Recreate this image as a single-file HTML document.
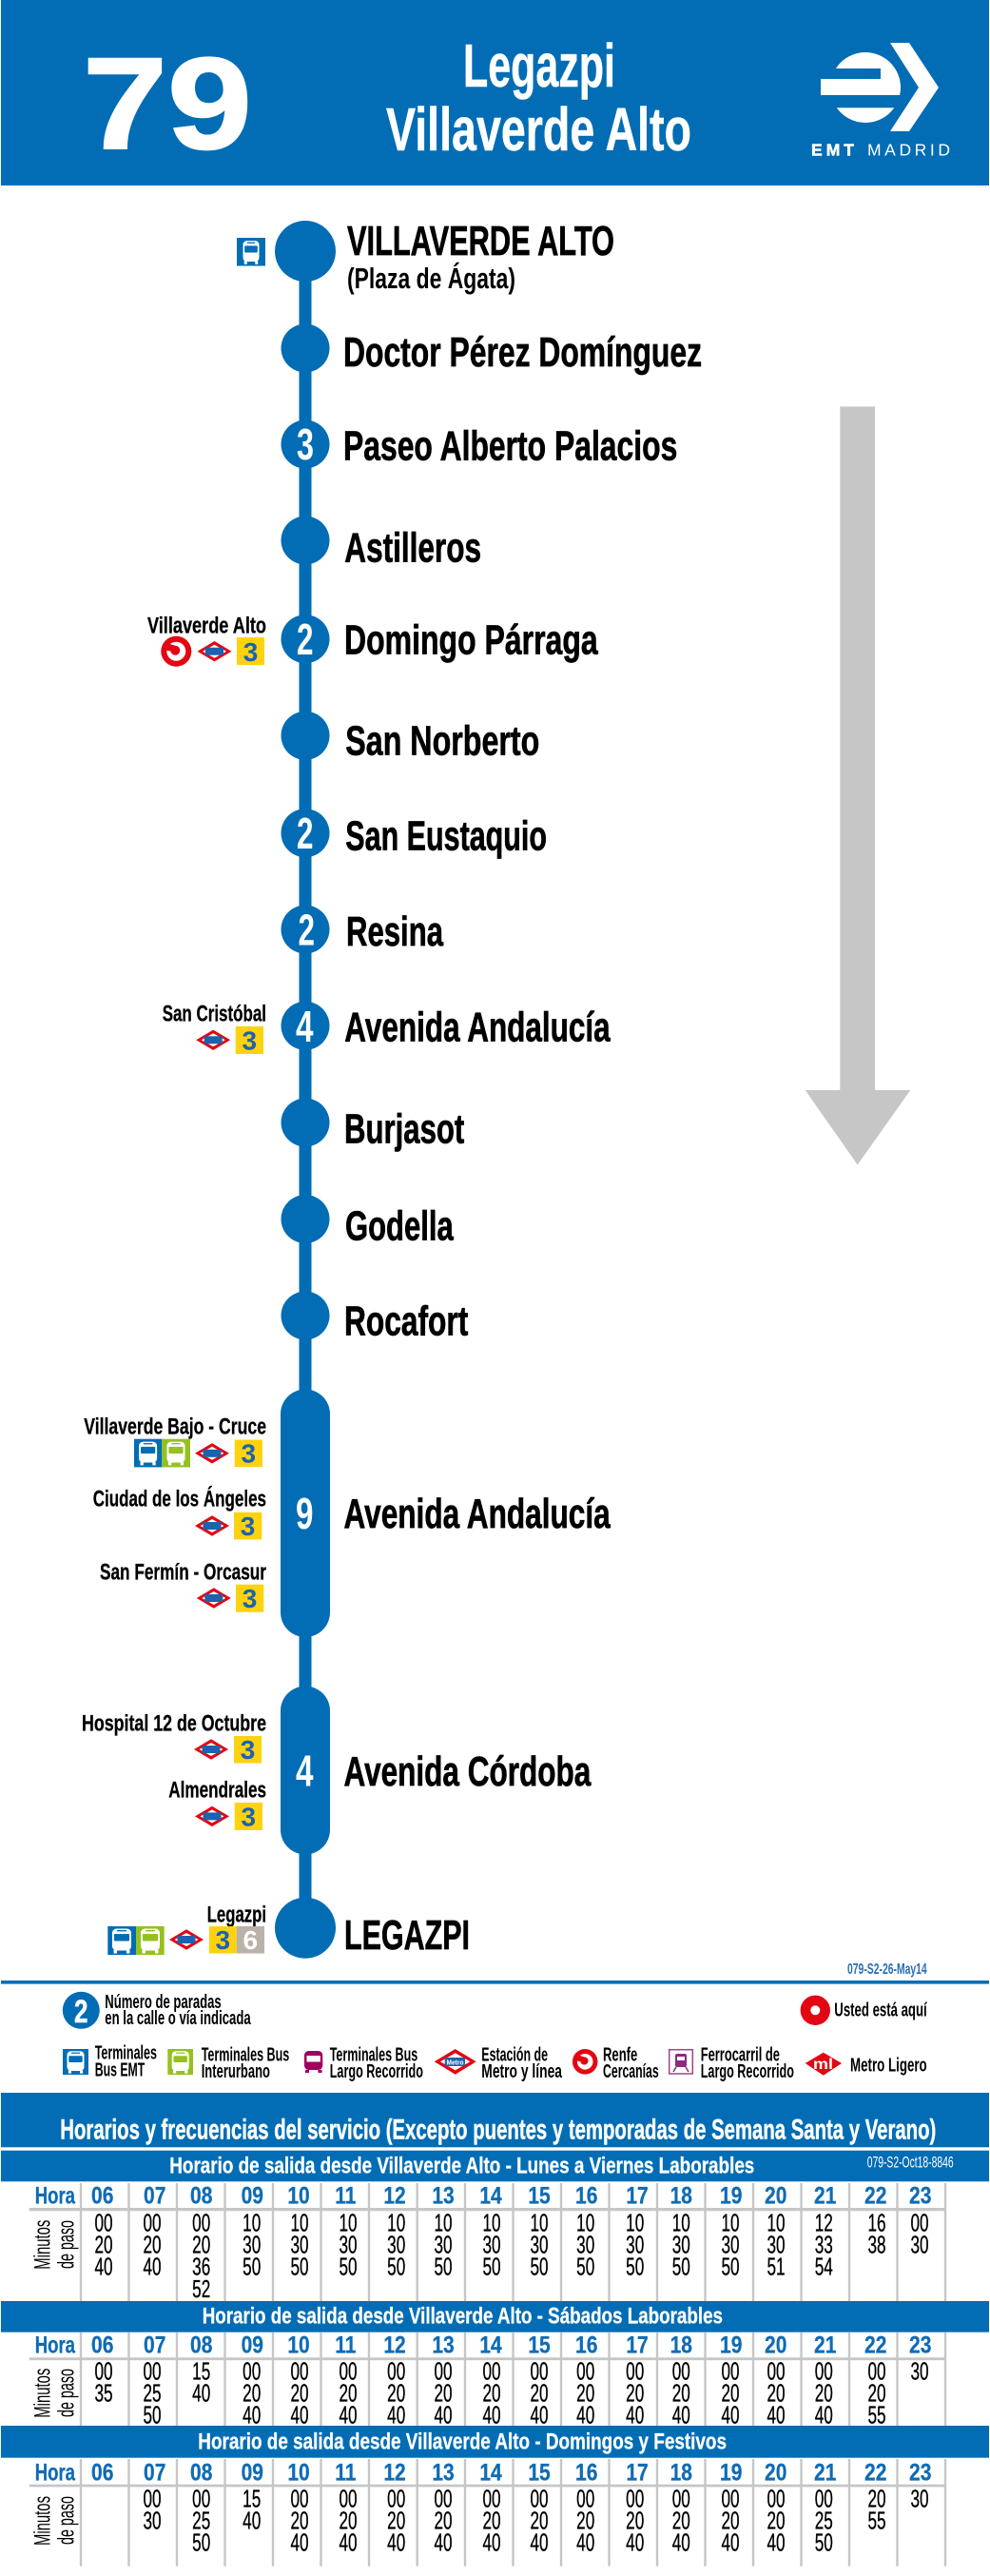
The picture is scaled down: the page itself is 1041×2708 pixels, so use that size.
<!DOCTYPE html>
<html lang="es"><head><meta charset="utf-8"><title>Línea 79 Legazpi - Villaverde Alto</title>
<style>
html,body{margin:0;padding:0;background:#fff}
svg{display:block}
text{font-family:"Liberation Sans",sans-serif;font-weight:700;fill:#000}
.w{fill:#fff;stroke:#fff;stroke-width:.5px}
.s{font-size:44px;stroke:#000;stroke-width:.7px}
.l{font-size:24px;stroke:#000;stroke-width:.3px}
.n{font-size:46px;fill:#fff}
.y{font-size:28px;fill:#1b62b0;text-anchor:middle}
.g{font-size:20px}
.b{font-size:24.5px;fill:#fff;stroke:#fff;stroke-width:.3px}
.h{font-size:24.7px;fill:#0f6cb5;stroke:#0f6cb5;stroke-width:.3px}
.m{font-size:26px;font-weight:400;text-anchor:middle;stroke:#000;stroke-width:.35px}
.r{font-size:24px;font-weight:400}
</style></head><body>
<svg xmlns="http://www.w3.org/2000/svg" width="1041" height="2708" viewBox="0 0 1041 2708">
<defs>
<g id="metro"><polygon points="-18,0 0,-10.7 18,0 0,10.7" fill="#e30613"/><polygon points="-12.5,0 0,-7 12.5,0 0,7" fill="#fff"/><rect x="-9.5" y="-4" width="19" height="8" fill="#1b62b0"/></g>
<g id="renfe"><circle r="16" fill="#e30613"/><circle r="10" fill="#fff"/><circle cx="-1" cy="-1" r="5" fill="#e30613"/><path d="M-11,-9 L-1,-6 L-4,0 L-11,-1Z" fill="#e30613"/></g>
<g id="bus"><rect x="-10" y="-12.5" width="20" height="23" rx="4.5" fill="#fff"/><rect x="-8" y="-7" width="16" height="7.5" rx="1" fill="currentColor"/><rect x="-5" y="-11" width="10" height="1.4" fill="currentColor"/><rect x="-8.5" y="10" width="3.5" height="3.5" fill="#fff"/><rect x="5" y="10" width="3.5" height="3.5" fill="#fff"/></g>
</defs>
<rect width="1041" height="2708" fill="#fff"/>

<g>
<rect x="1" y="0" width="1039" height="195" fill="#026db5"/>
<text class="w" x="87" y="156" font-size="137" textLength="178" lengthAdjust="spacingAndGlyphs" style="stroke-width:2px">79</text>
<text class="w" x="487" y="91" font-size="64" textLength="160" lengthAdjust="spacingAndGlyphs">Legazpi</text>
<text class="w" x="406" y="158" font-size="64" textLength="321" lengthAdjust="spacingAndGlyphs">Villaverde Alto</text>
<g>
<circle cx="910" cy="92" r="37" fill="#fff"/><rect x="863" y="83" width="30" height="17" fill="#fff"/><rect x="860" y="72" width="66" height="11" fill="#026db5"/><rect x="860" y="100" width="92" height="13.3" fill="#026db5"/>
<polygon points="936,45 956,45 987,92 956,138 936,138 966,92" fill="#fff"/>
<text class="w" x="853" y="163.3" font-size="17.5" textLength="45">EMT</text>
<text x="912" y="163.3" font-size="17.5" style="font-weight:400;fill:#fff" textLength="87">MADRID</text>
</g></g>

<g fill="#026db5">
<rect x="314.5" y="264" width="13" height="1762"/>
<circle cx="321" cy="264" r="32"/>
<circle cx="321" cy="366" r="25.5"/>
<circle cx="321" cy="467" r="25.5"/>
<circle cx="321" cy="568" r="25.5"/>
<circle cx="321" cy="671.7" r="25.5"/>
<circle cx="321" cy="773.3" r="25.5"/>
<circle cx="321" cy="875.7" r="25.5"/>
<circle cx="321" cy="977" r="25.5"/>
<circle cx="321" cy="1078.3" r="25.5"/>
<circle cx="321" cy="1180" r="25.5"/>
<circle cx="321" cy="1281.5" r="25.5"/>
<circle cx="321" cy="1383" r="25.5"/>
<rect x="295" y="1460.5" width="52" height="260.5" rx="26"/>
<rect x="295" y="1772.5" width="52" height="177" rx="26"/>
<circle cx="321" cy="2026.7" r="32"/>
</g>
<g>
<text class="n" x="312" y="483" textLength="18" lengthAdjust="spacingAndGlyphs">3</text>
<text class="n" x="312" y="688" textLength="17.5" lengthAdjust="spacingAndGlyphs">2</text>
<text class="n" x="312" y="892" textLength="17.5" lengthAdjust="spacingAndGlyphs">2</text>
<text class="n" x="313.5" y="993.5" textLength="17.5" lengthAdjust="spacingAndGlyphs">2</text>
<text class="n" x="311" y="1095" textLength="18.5" lengthAdjust="spacingAndGlyphs">4</text>
<text class="n" x="311" y="1607" textLength="18.5" lengthAdjust="spacingAndGlyphs">9</text>
<text class="n" x="311" y="1877.5" textLength="18.5" lengthAdjust="spacingAndGlyphs">4</text>
</g>

<g>
<text class="s" x="365" y="268" textLength="281" lengthAdjust="spacingAndGlyphs">VILLAVERDE ALTO</text>
<text x="365" y="303" font-size="31" textLength="177" lengthAdjust="spacingAndGlyphs">(Plaza de Ágata)</text>
<text class="s" x="361" y="385" textLength="377" lengthAdjust="spacingAndGlyphs">Doctor Pérez Domínguez</text>
<text class="s" x="361" y="483.3" textLength="351.3" lengthAdjust="spacingAndGlyphs">Paseo Alberto Palacios</text>
<text class="s" x="362.3" y="590.7" textLength="143.7" lengthAdjust="spacingAndGlyphs">Astilleros</text>
<text class="s" x="362" y="687.3" textLength="266.7" lengthAdjust="spacingAndGlyphs">Domingo Párraga</text>
<text class="s" x="363.3" y="793.3" textLength="204" lengthAdjust="spacingAndGlyphs">San Norberto</text>
<text class="s" x="363.3" y="893.3" textLength="211.7" lengthAdjust="spacingAndGlyphs">San Eustaquio</text>
<text class="s" x="364" y="994" textLength="102" lengthAdjust="spacingAndGlyphs">Resina</text>
<text class="s" x="362.3" y="1094.3" textLength="279.4" lengthAdjust="spacingAndGlyphs">Avenida Andalucía</text>
<text class="s" x="362" y="1201.7" textLength="126.3" lengthAdjust="spacingAndGlyphs">Burjasot</text>
<text class="s" x="363" y="1303.3" textLength="113.7" lengthAdjust="spacingAndGlyphs">Godella</text>
<text class="s" x="362" y="1403.3" textLength="130.3" lengthAdjust="spacingAndGlyphs">Rocafort</text>
<text class="s" x="361.5" y="1606" textLength="280.2" lengthAdjust="spacingAndGlyphs">Avenida Andalucía</text>
<text class="s" x="361.5" y="1877" textLength="259.8" lengthAdjust="spacingAndGlyphs">Avenida Córdoba</text>
<text class="s" x="362" y="2049" textLength="132" lengthAdjust="spacingAndGlyphs">LEGAZPI</text>
</g>

<g color="#026db5"><rect x="249" y="250" width="30" height="29.5" fill="#026db5"/><use href="#bus" transform="translate(264,265) scale(.85,.95)"/></g>

<g>
<text class="l" x="155" y="665.3" textLength="125" lengthAdjust="spacingAndGlyphs">Villaverde Alto</text>
<use href="#renfe" x="185.3" y="684.7"/>
<use href="#metro" x="225.5" y="684.7"/>
<rect x="249" y="670" width="29" height="29" fill="#ffd20f"/><text class="y" x="263.5" y="695">3</text>

<text class="l" x="170.7" y="1073.3" textLength="109.3" lengthAdjust="spacingAndGlyphs">San Cristóbal</text>
<use href="#metro" x="224.2" y="1093.3"/>
<rect x="247.7" y="1079" width="29.3" height="29" fill="#ffd20f"/><text class="y" x="262.3" y="1103.5">3</text>

<text class="l" x="88.3" y="1507.3" textLength="191.7" lengthAdjust="spacingAndGlyphs">Villaverde Bajo - Cruce</text>
<rect x="141" y="1512.7" width="29.3" height="29.7" fill="#026db5"/><use href="#bus" color="#026db5" transform="translate(155.6,1527.5) scale(.95)"/>
<rect x="170.3" y="1512.7" width="29.7" height="29.7" fill="#95c11f"/><use href="#bus" color="#95c11f" transform="translate(185,1527.5) scale(.95)"/>
<use href="#metro" x="223" y="1527.8"/>
<rect x="246.7" y="1513.5" width="29.3" height="28.5" fill="#ffd20f"/><text class="y" x="261.3" y="1537.5">3</text>

<text class="l" x="97.7" y="1583.7" textLength="182.3" lengthAdjust="spacingAndGlyphs">Ciudad de los Ángeles</text>
<use href="#metro" x="223" y="1604"/>
<rect x="246" y="1589.8" width="29.3" height="28.6" fill="#ffd20f"/><text class="y" x="260.6" y="1614">3</text>

<text class="l" x="105" y="1660.4" textLength="175" lengthAdjust="spacingAndGlyphs">San Fermín - Orcasur</text>
<use href="#metro" x="224.8" y="1680"/>
<rect x="248" y="1665.7" width="29.3" height="29" fill="#ffd20f"/><text class="y" x="262.6" y="1690">3</text>

<text class="l" x="86" y="1819.6" textLength="194" lengthAdjust="spacingAndGlyphs">Hospital 12 de Octubre</text>
<use href="#metro" x="222" y="1839"/>
<rect x="246" y="1825" width="29" height="28.5" fill="#ffd20f"/><text class="y" x="260.5" y="1849">3</text>

<text class="l" x="177.3" y="1889.4" textLength="102.7" lengthAdjust="spacingAndGlyphs">Almendrales</text>
<use href="#metro" x="223" y="1909.4"/>
<rect x="246.7" y="1895" width="29.3" height="29" fill="#ffd20f"/><text class="y" x="261.3" y="1919.5">3</text>

<text class="l" x="217.7" y="2020.4" textLength="62.3" lengthAdjust="spacingAndGlyphs">Legazpi</text>
<rect x="113.3" y="2025" width="29.7" height="30" fill="#026db5"/><use href="#bus" color="#026db5" transform="translate(128,2040)"/>
<rect x="143" y="2025" width="29.7" height="30" fill="#95c11f"/><use href="#bus" color="#95c11f" transform="translate(158,2040)"/>
<use href="#metro" x="196" y="2039"/>
<rect x="220" y="2025" width="28.7" height="28.5" fill="#ffd20f"/><text class="y" x="234.3" y="2049">3</text>
<rect x="248.7" y="2025" width="29.3" height="28.5" fill="#b9b2a9"/><text class="y" x="263.3" y="2049" style="fill:#fff">6</text>
</g>

<polygon points="883.3,427.4 920,427.4 920,1146 957.3,1146 901.7,1224.5 846.7,1146 883.3,1146" fill="#c6c6c6"/>

<g>
<text x="891" y="2075" font-size="16" style="fill:#2a6db5" textLength="83.7" lengthAdjust="spacingAndGlyphs">079-S2-26-May14</text>
<rect x="1" y="2082" width="1039" height="3.6" fill="#026db5"/>
<circle cx="85.3" cy="2113.3" r="19.5" fill="#026db5"/>
<text class="w" x="78" y="2126" font-size="34" textLength="14.5" lengthAdjust="spacingAndGlyphs">2</text>
<text class="g" x="110.3" y="2111" textLength="122.4" lengthAdjust="spacingAndGlyphs">Número de paradas</text>
<text class="g" x="110.3" y="2128" textLength="153.4" lengthAdjust="spacingAndGlyphs">en la calle o vía indicada</text>
<circle cx="857.3" cy="2113.3" r="15.7" fill="#e30613"/><circle cx="857.3" cy="2113.3" r="5" fill="#fff"/>
<text class="g" x="877.3" y="2119.7" textLength="97.4" lengthAdjust="spacingAndGlyphs">Usted está aquí</text>

<rect x="66" y="2154" width="27" height="27" fill="#026db5"/><use href="#bus" color="#026db5" transform="translate(79.5,2167.5) scale(.9)"/>
<text class="g" x="99.7" y="2164.7" textLength="65.3" lengthAdjust="spacingAndGlyphs">Terminales</text>
<text class="g" x="99.7" y="2182.7" textLength="52.6" lengthAdjust="spacingAndGlyphs">Bus EMT</text>
<rect x="176.3" y="2154" width="26.7" height="27" fill="#95c11f"/><use href="#bus" color="#95c11f" transform="translate(189.7,2167.5) scale(.9)"/>
<text class="g" x="211.7" y="2166.7" textLength="92.6" lengthAdjust="spacingAndGlyphs">Terminales Bus</text>
<text class="g" x="211.7" y="2184" textLength="72.3" lengthAdjust="spacingAndGlyphs">Interurbano</text>
<g><rect x="320" y="2156" width="19.3" height="20" rx="4.5" fill="#a2005f"/><rect x="322.5" y="2161" width="14.3" height="6.5" fill="#fff"/><rect x="321" y="2176" width="4" height="3" fill="#a2005f"/><rect x="334.5" y="2176" width="4" height="3" fill="#a2005f"/></g>
<text class="g" x="346.7" y="2166.7" textLength="92.6" lengthAdjust="spacingAndGlyphs">Terminales Bus</text>
<text class="g" x="346.7" y="2184" textLength="98.3" lengthAdjust="spacingAndGlyphs">Largo Recorrido</text>
<g><polygon points="456.7,2167.3 478.7,2154 500.7,2167.3 478.7,2180.7" fill="#e30613"/><polygon points="463,2167.3 478.7,2158.3 494.4,2167.3 478.7,2176.4" fill="#fff"/><rect x="467.7" y="2163" width="21.3" height="9" fill="#1b62b0"/><text x="469.5" y="2170.5" font-size="7.5" style="fill:#fff" textLength="18" lengthAdjust="spacingAndGlyphs">Metro</text></g>
<text class="g" x="506.3" y="2166.7" textLength="69.7" lengthAdjust="spacingAndGlyphs">Estación de</text>
<text class="g" x="506.3" y="2184" textLength="84.7" lengthAdjust="spacingAndGlyphs">Metro y línea</text>
<use href="#renfe" transform="translate(615.2,2167.3) scale(.83)"/>
<text class="g" x="634" y="2166.7" textLength="36.3" lengthAdjust="spacingAndGlyphs">Renfe</text>
<text class="g" x="634" y="2184" textLength="58.7" lengthAdjust="spacingAndGlyphs">Cercanías</text>
<g><rect x="703.7" y="2154.7" width="24.6" height="25.3" fill="#fff" stroke="#a3448b" stroke-width="1.5"/><rect x="710" y="2159" width="12" height="14" rx="2" fill="#8c2a7e"/><rect x="712" y="2162" width="8" height="4" fill="#fff"/><path d="M711,2173l-3,5M721,2173l3,5" stroke="#8c2a7e" stroke-width="1.5"/></g>
<text class="g" x="736.7" y="2166.7" textLength="83.3" lengthAdjust="spacingAndGlyphs">Ferrocarril de</text>
<text class="g" x="736.7" y="2184" textLength="98.3" lengthAdjust="spacingAndGlyphs">Largo Recorrido</text>
<g><polygon points="846.7,2169 865.8,2157.7 885,2169 865.8,2181.7" fill="#e30613"/><text x="855" y="2175" font-size="16" style="fill:#fff" textLength="21" lengthAdjust="spacingAndGlyphs">ml</text></g>
<text class="g" x="894" y="2177.7" textLength="80.7" lengthAdjust="spacingAndGlyphs">Metro Ligero</text>
</g>

<g>
<rect x="1" y="2200" width="1039" height="57.3" fill="#026db5"/>
<text class="w" x="63.3" y="2248.3" font-size="30" textLength="921" lengthAdjust="spacingAndGlyphs">Horarios y frecuencias del servicio (Excepto puentes y temporadas de Semana Santa y Verano)</text>

<g stroke="#c6c6c6" stroke-width="2.4">
<path fill="none" d="M85,2295V2419M135.5,2295V2419M186,2295V2419M236.5,2295V2419M287,2295V2419M337.5,2295V2419M388,2295V2419M438.7,2295V2419M489,2295V2419M539.5,2295V2419M590,2295V2419M640.5,2295V2419M691,2295V2419M741.5,2295V2419M792,2295V2419M842.5,2295V2419M893,2295V2419M943.5,2295V2419M994,2295V2419"/>
<path fill="none" d="M85,2452V2550M135.5,2452V2550M186,2452V2550M236.5,2452V2550M287,2452V2550M337.5,2452V2550M388,2452V2550M438.7,2452V2550M489,2452V2550M539.5,2452V2550M590,2452V2550M640.5,2452V2550M691,2452V2550M741.5,2452V2550M792,2452V2550M842.5,2452V2550M893,2452V2550M943.5,2452V2550M994,2452V2550"/>
<path fill="none" d="M85,2585V2697.7M135.5,2585V2697.7M186,2585V2697.7M236.5,2585V2697.7M287,2585V2697.7M337.5,2585V2697.7M388,2585V2697.7M438.7,2585V2697.7M489,2585V2697.7M539.5,2585V2697.7M590,2585V2697.7M640.5,2585V2697.7M691,2585V2697.7M741.5,2585V2697.7M792,2585V2697.7M842.5,2585V2697.7M893,2585V2697.7M943.5,2585V2697.7M994,2585V2697.7"/>
</g>
<rect x="30.7" y="2321" width="964" height="3.3" fill="#c6c6c6"/>
<rect x="30.7" y="2478.3" width="964" height="2.9" fill="#c6c6c6"/>
<rect x="30.7" y="2611.7" width="964" height="2.7" fill="#c6c6c6"/>

<rect x="1" y="2260.7" width="1039" height="32.6" fill="#026db5"/>
<text class="b" x="178.3" y="2284.3" textLength="615" lengthAdjust="spacingAndGlyphs">Horario de salida desde Villaverde Alto - Lunes a Viernes Laborables</text>
<text x="911.7" y="2278.3" font-size="16.5" style="fill:#fff;font-weight:400" textLength="91" lengthAdjust="spacingAndGlyphs">079-S2-Oct18-8846</text>
<rect x="1" y="2419" width="1039" height="32.7" fill="#026db5"/>
<text class="b" x="212.7" y="2442.7" textLength="547.3" lengthAdjust="spacingAndGlyphs">Horario de salida desde Villaverde Alto - Sábados Laborables</text>
<rect x="1" y="2550" width="1039" height="33.7" fill="#026db5"/>
<text class="b" x="208.3" y="2574.3" textLength="555.7" lengthAdjust="spacingAndGlyphs">Horario de salida desde Villaverde Alto - Domingos y Festivos</text>

<g text-anchor="middle">
<g transform="translate(0,2316.7)"><text class="h" x="36.7" text-anchor="start" textLength="42.3" lengthAdjust="spacingAndGlyphs">Hora</text><text class="h" transform="translate(107.7,0) scale(.85,1)">06</text><text class="h" transform="translate(162.7,0) scale(.85,1)">07</text><text class="h" transform="translate(211.7,0) scale(.85,1)">08</text><text class="h" transform="translate(265.3,0) scale(.85,1)">09</text><text class="h" transform="translate(314,0) scale(.85,1)">10</text><text class="h" transform="translate(363.3,0) scale(.85,1)">11</text><text class="h" transform="translate(415,0) scale(.85,1)">12</text><text class="h" transform="translate(466,0) scale(.85,1)">13</text><text class="h" transform="translate(516,0) scale(.85,1)">14</text><text class="h" transform="translate(567,0) scale(.85,1)">15</text><text class="h" transform="translate(616.7,0) scale(.85,1)">16</text><text class="h" transform="translate(670,0) scale(.85,1)">17</text><text class="h" transform="translate(716.3,0) scale(.85,1)">18</text><text class="h" transform="translate(768.7,0) scale(.85,1)">19</text><text class="h" transform="translate(815.7,0) scale(.85,1)">20</text><text class="h" transform="translate(867.7,0) scale(.85,1)">21</text><text class="h" transform="translate(920.7,0) scale(.85,1)">22</text><text class="h" transform="translate(967.7,0) scale(.85,1)">23</text></g>
<g transform="translate(0,2473.3)"><text class="h" x="36.7" text-anchor="start" textLength="42.3" lengthAdjust="spacingAndGlyphs">Hora</text><text class="h" transform="translate(107.7,0) scale(.85,1)">06</text><text class="h" transform="translate(162.7,0) scale(.85,1)">07</text><text class="h" transform="translate(211.7,0) scale(.85,1)">08</text><text class="h" transform="translate(265.3,0) scale(.85,1)">09</text><text class="h" transform="translate(314,0) scale(.85,1)">10</text><text class="h" transform="translate(363.3,0) scale(.85,1)">11</text><text class="h" transform="translate(415,0) scale(.85,1)">12</text><text class="h" transform="translate(466,0) scale(.85,1)">13</text><text class="h" transform="translate(516,0) scale(.85,1)">14</text><text class="h" transform="translate(567,0) scale(.85,1)">15</text><text class="h" transform="translate(616.7,0) scale(.85,1)">16</text><text class="h" transform="translate(670,0) scale(.85,1)">17</text><text class="h" transform="translate(716.3,0) scale(.85,1)">18</text><text class="h" transform="translate(768.7,0) scale(.85,1)">19</text><text class="h" transform="translate(815.7,0) scale(.85,1)">20</text><text class="h" transform="translate(867.7,0) scale(.85,1)">21</text><text class="h" transform="translate(920.7,0) scale(.85,1)">22</text><text class="h" transform="translate(967.7,0) scale(.85,1)">23</text></g>
<g transform="translate(0,2607.3)"><text class="h" x="36.7" text-anchor="start" textLength="42.3" lengthAdjust="spacingAndGlyphs">Hora</text><text class="h" transform="translate(107.7,0) scale(.85,1)">06</text><text class="h" transform="translate(162.7,0) scale(.85,1)">07</text><text class="h" transform="translate(211.7,0) scale(.85,1)">08</text><text class="h" transform="translate(265.3,0) scale(.85,1)">09</text><text class="h" transform="translate(314,0) scale(.85,1)">10</text><text class="h" transform="translate(363.3,0) scale(.85,1)">11</text><text class="h" transform="translate(415,0) scale(.85,1)">12</text><text class="h" transform="translate(466,0) scale(.85,1)">13</text><text class="h" transform="translate(516,0) scale(.85,1)">14</text><text class="h" transform="translate(567,0) scale(.85,1)">15</text><text class="h" transform="translate(616.7,0) scale(.85,1)">16</text><text class="h" transform="translate(670,0) scale(.85,1)">17</text><text class="h" transform="translate(716.3,0) scale(.85,1)">18</text><text class="h" transform="translate(768.7,0) scale(.85,1)">19</text><text class="h" transform="translate(815.7,0) scale(.85,1)">20</text><text class="h" transform="translate(867.7,0) scale(.85,1)">21</text><text class="h" transform="translate(920.7,0) scale(.85,1)">22</text><text class="h" transform="translate(967.7,0) scale(.85,1)">23</text></g>
</g>

<g>
<text class="r" transform="translate(52.7,2385.7) rotate(-90)" textLength="52" lengthAdjust="spacingAndGlyphs">Minutos</text>
<text class="r" transform="translate(77.3,2385) rotate(-90)" textLength="51" lengthAdjust="spacingAndGlyphs">de paso</text>
<text class="r" transform="translate(52.7,2541.7) rotate(-90)" textLength="52" lengthAdjust="spacingAndGlyphs">Minutos</text>
<text class="r" transform="translate(77.3,2541) rotate(-90)" textLength="51" lengthAdjust="spacingAndGlyphs">de paso</text>
<text class="r" transform="translate(52.7,2676) rotate(-90)" textLength="52" lengthAdjust="spacingAndGlyphs">Minutos</text>
<text class="r" transform="translate(77.3,2675) rotate(-90)" textLength="51" lengthAdjust="spacingAndGlyphs">de paso</text>
</g>

<g>
<text class="m" transform="translate(109,2345.7) scale(.66,1)"><tspan x="0" y="0">00</tspan><tspan x="0" y="23">20</tspan><tspan x="0" y="46">40</tspan></text>
<text class="m" transform="translate(160,2345.7) scale(.66,1)"><tspan x="0" y="0">00</tspan><tspan x="0" y="23">20</tspan><tspan x="0" y="46">40</tspan></text>
<text class="m" transform="translate(211.7,2345.7) scale(.66,1)"><tspan x="0" y="0">00</tspan><tspan x="0" y="23">20</tspan><tspan x="0" y="46">36</tspan><tspan x="0" y="69.3">52</tspan></text>
<text class="m" transform="translate(264.7,2345.7) scale(.66,1)"><tspan x="0" y="0">10</tspan><tspan x="0" y="23">30</tspan><tspan x="0" y="46">50</tspan></text>
<text class="m" transform="translate(315,2345.7) scale(.66,1)"><tspan x="0" y="0">10</tspan><tspan x="0" y="23">30</tspan><tspan x="0" y="46">50</tspan></text>
<text class="m" transform="translate(366,2345.7) scale(.66,1)"><tspan x="0" y="0">10</tspan><tspan x="0" y="23">30</tspan><tspan x="0" y="46">50</tspan></text>
<text class="m" transform="translate(416.7,2345.7) scale(.66,1)"><tspan x="0" y="0">10</tspan><tspan x="0" y="23">30</tspan><tspan x="0" y="46">50</tspan></text>
<text class="m" transform="translate(466,2345.7) scale(.66,1)"><tspan x="0" y="0">10</tspan><tspan x="0" y="23">30</tspan><tspan x="0" y="46">50</tspan></text>
<text class="m" transform="translate(517,2345.7) scale(.66,1)"><tspan x="0" y="0">10</tspan><tspan x="0" y="23">30</tspan><tspan x="0" y="46">50</tspan></text>
<text class="m" transform="translate(567,2345.7) scale(.66,1)"><tspan x="0" y="0">10</tspan><tspan x="0" y="23">30</tspan><tspan x="0" y="46">50</tspan></text>
<text class="m" transform="translate(615.7,2345.7) scale(.66,1)"><tspan x="0" y="0">10</tspan><tspan x="0" y="23">30</tspan><tspan x="0" y="46">50</tspan></text>
<text class="m" transform="translate(667.7,2345.7) scale(.66,1)"><tspan x="0" y="0">10</tspan><tspan x="0" y="23">30</tspan><tspan x="0" y="46">50</tspan></text>
<text class="m" transform="translate(716.3,2345.7) scale(.66,1)"><tspan x="0" y="0">10</tspan><tspan x="0" y="23">30</tspan><tspan x="0" y="46">50</tspan></text>
<text class="m" transform="translate(768,2345.7) scale(.66,1)"><tspan x="0" y="0">10</tspan><tspan x="0" y="23">30</tspan><tspan x="0" y="46">50</tspan></text>
<text class="m" transform="translate(816,2345.7) scale(.66,1)"><tspan x="0" y="0">10</tspan><tspan x="0" y="23">30</tspan><tspan x="0" y="46">51</tspan></text>
<text class="m" transform="translate(866.3,2345.7) scale(.66,1)"><tspan x="0" y="0">12</tspan><tspan x="0" y="23">33</tspan><tspan x="0" y="46">54</tspan></text>
<text class="m" transform="translate(922,2345.7) scale(.66,1)"><tspan x="0" y="0">16</tspan><tspan x="0" y="23">38</tspan></text>
<text class="m" transform="translate(967,2345.7) scale(.66,1)"><tspan x="0" y="0">00</tspan><tspan x="0" y="23">30</tspan></text>
</g>
<g>
<text class="m" transform="translate(109,2501.7) scale(.66,1)"><tspan x="0" y="0">00</tspan><tspan x="0" y="23">35</tspan></text>
<text class="m" transform="translate(160,2501.7) scale(.66,1)"><tspan x="0" y="0">00</tspan><tspan x="0" y="23">25</tspan><tspan x="0" y="46">50</tspan></text>
<text class="m" transform="translate(211.7,2501.7) scale(.66,1)"><tspan x="0" y="0">15</tspan><tspan x="0" y="23">40</tspan></text>
<text class="m" transform="translate(264.7,2501.7) scale(.66,1)"><tspan x="0" y="0">00</tspan><tspan x="0" y="23">20</tspan><tspan x="0" y="46">40</tspan></text>
<text class="m" transform="translate(315,2501.7) scale(.66,1)"><tspan x="0" y="0">00</tspan><tspan x="0" y="23">20</tspan><tspan x="0" y="46">40</tspan></text>
<text class="m" transform="translate(366,2501.7) scale(.66,1)"><tspan x="0" y="0">00</tspan><tspan x="0" y="23">20</tspan><tspan x="0" y="46">40</tspan></text>
<text class="m" transform="translate(416.7,2501.7) scale(.66,1)"><tspan x="0" y="0">00</tspan><tspan x="0" y="23">20</tspan><tspan x="0" y="46">40</tspan></text>
<text class="m" transform="translate(466,2501.7) scale(.66,1)"><tspan x="0" y="0">00</tspan><tspan x="0" y="23">20</tspan><tspan x="0" y="46">40</tspan></text>
<text class="m" transform="translate(517,2501.7) scale(.66,1)"><tspan x="0" y="0">00</tspan><tspan x="0" y="23">20</tspan><tspan x="0" y="46">40</tspan></text>
<text class="m" transform="translate(567,2501.7) scale(.66,1)"><tspan x="0" y="0">00</tspan><tspan x="0" y="23">20</tspan><tspan x="0" y="46">40</tspan></text>
<text class="m" transform="translate(615.7,2501.7) scale(.66,1)"><tspan x="0" y="0">00</tspan><tspan x="0" y="23">20</tspan><tspan x="0" y="46">40</tspan></text>
<text class="m" transform="translate(667.7,2501.7) scale(.66,1)"><tspan x="0" y="0">00</tspan><tspan x="0" y="23">20</tspan><tspan x="0" y="46">40</tspan></text>
<text class="m" transform="translate(716.3,2501.7) scale(.66,1)"><tspan x="0" y="0">00</tspan><tspan x="0" y="23">20</tspan><tspan x="0" y="46">40</tspan></text>
<text class="m" transform="translate(768,2501.7) scale(.66,1)"><tspan x="0" y="0">00</tspan><tspan x="0" y="23">20</tspan><tspan x="0" y="46">40</tspan></text>
<text class="m" transform="translate(816,2501.7) scale(.66,1)"><tspan x="0" y="0">00</tspan><tspan x="0" y="23">20</tspan><tspan x="0" y="46">40</tspan></text>
<text class="m" transform="translate(866.3,2501.7) scale(.66,1)"><tspan x="0" y="0">00</tspan><tspan x="0" y="23">20</tspan><tspan x="0" y="46">40</tspan></text>
<text class="m" transform="translate(922,2501.7) scale(.66,1)"><tspan x="0" y="0">00</tspan><tspan x="0" y="23">20</tspan><tspan x="0" y="46">55</tspan></text>
<text class="m" transform="translate(967,2501.7) scale(.66,1)"><tspan x="0" y="0">30</tspan></text>
</g>
<g>
<text class="m" transform="translate(160,2635.7) scale(.66,1)"><tspan x="0" y="0">00</tspan><tspan x="0" y="23">30</tspan></text>
<text class="m" transform="translate(211.7,2635.7) scale(.66,1)"><tspan x="0" y="0">00</tspan><tspan x="0" y="23">25</tspan><tspan x="0" y="46">50</tspan></text>
<text class="m" transform="translate(264.7,2635.7) scale(.66,1)"><tspan x="0" y="0">15</tspan><tspan x="0" y="23">40</tspan></text>
<text class="m" transform="translate(315,2635.7) scale(.66,1)"><tspan x="0" y="0">00</tspan><tspan x="0" y="23">20</tspan><tspan x="0" y="46">40</tspan></text>
<text class="m" transform="translate(366,2635.7) scale(.66,1)"><tspan x="0" y="0">00</tspan><tspan x="0" y="23">20</tspan><tspan x="0" y="46">40</tspan></text>
<text class="m" transform="translate(416.7,2635.7) scale(.66,1)"><tspan x="0" y="0">00</tspan><tspan x="0" y="23">20</tspan><tspan x="0" y="46">40</tspan></text>
<text class="m" transform="translate(466,2635.7) scale(.66,1)"><tspan x="0" y="0">00</tspan><tspan x="0" y="23">20</tspan><tspan x="0" y="46">40</tspan></text>
<text class="m" transform="translate(517,2635.7) scale(.66,1)"><tspan x="0" y="0">00</tspan><tspan x="0" y="23">20</tspan><tspan x="0" y="46">40</tspan></text>
<text class="m" transform="translate(567,2635.7) scale(.66,1)"><tspan x="0" y="0">00</tspan><tspan x="0" y="23">20</tspan><tspan x="0" y="46">40</tspan></text>
<text class="m" transform="translate(615.7,2635.7) scale(.66,1)"><tspan x="0" y="0">00</tspan><tspan x="0" y="23">20</tspan><tspan x="0" y="46">40</tspan></text>
<text class="m" transform="translate(667.7,2635.7) scale(.66,1)"><tspan x="0" y="0">00</tspan><tspan x="0" y="23">20</tspan><tspan x="0" y="46">40</tspan></text>
<text class="m" transform="translate(716.3,2635.7) scale(.66,1)"><tspan x="0" y="0">00</tspan><tspan x="0" y="23">20</tspan><tspan x="0" y="46">40</tspan></text>
<text class="m" transform="translate(768,2635.7) scale(.66,1)"><tspan x="0" y="0">00</tspan><tspan x="0" y="23">20</tspan><tspan x="0" y="46">40</tspan></text>
<text class="m" transform="translate(816,2635.7) scale(.66,1)"><tspan x="0" y="0">00</tspan><tspan x="0" y="23">20</tspan><tspan x="0" y="46">40</tspan></text>
<text class="m" transform="translate(866.3,2635.7) scale(.66,1)"><tspan x="0" y="0">00</tspan><tspan x="0" y="23">25</tspan><tspan x="0" y="46">50</tspan></text>
<text class="m" transform="translate(922,2635.7) scale(.66,1)"><tspan x="0" y="0">20</tspan><tspan x="0" y="23">55</tspan></text>
<text class="m" transform="translate(967,2635.7) scale(.66,1)"><tspan x="0" y="0">30</tspan></text>
</g>
</g>
</svg>
</body></html>
